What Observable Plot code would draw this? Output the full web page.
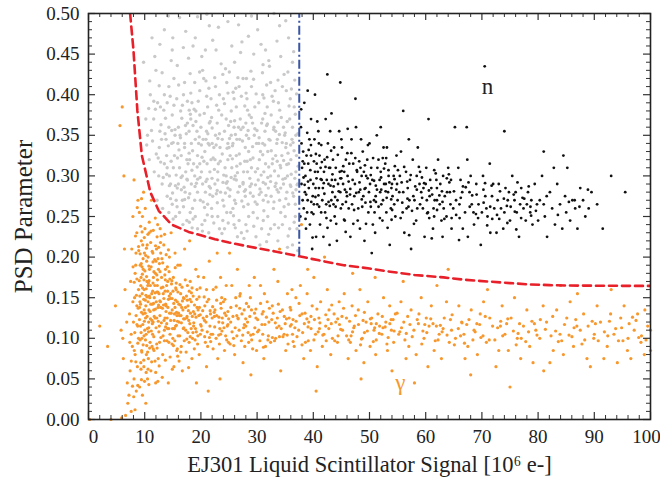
<!DOCTYPE html>
<html><head><meta charset="utf-8">
<script src="https://cdn.jsdelivr.net/npm/d3@7"></script>
<script src="https://cdn.jsdelivr.net/npm/@observablehq/plot@0.6"></script>
<style>body{margin:0;background:#fff} svg text{font-family:'Liberation Serif','Times New Roman',serif !important}</style>
</head><body><div id="chart"></div>
<script>
const xLabel = "EJ301 Liquid Scintillator Signal [10⁶ e-]";
const yLabel = "PSD Parameter";
const xTicks = [0,10,20,30,40,50,60,70,80,90,100];
const xMinor = [2,4,6,8,12,14,16,18,22,24,26,28,32,34,36,38,42,44,46,48,52,54,56,58,62,64,66,68,72,74,76,78,82,84,86,88,92,94,96,98];
const yTicks = [0,0.05,0.10,0.15,0.20,0.25,0.30,0.35,0.40,0.45,0.50];
const yMinor = [0.01,0.02,0.03,0.04,0.06,0.07,0.08,0.09,0.11,0.12,0.13,0.14,0.16,0.17,0.18,0.19,0.21,0.22,0.23,0.24,0.26,0.27,0.28,0.29,0.31,0.32,0.33,0.34,0.36,0.37,0.38,0.39,0.41,0.42,0.43,0.44,0.46,0.47,0.48,0.49];

// cut curve (red dashed)
const cutX = [7.4,8.0,8.7,9.5,11.0,12.5,14.8,17.8,20,22.5,25,28.5,33.2,37.5,41,45.4,50,53.7,58,63.2,67,71,75,78,82,85,90,95,100];
const cutY = [0.50,0.455,0.38,0.325,0.28,0.257,0.240,0.231,0.227,0.222,0.218,0.213,0.207,0.201,0.196,0.190,0.186,0.182,0.178,0.175,0.172,0.170,0.168,0.1665,0.1655,0.165,0.1648,0.1646,0.1645];
// vertical energy cut (blue dash-dot)
const vetoX = [37.5];
const vetoYLow = 0.201, vetoYHigh = 0.5;

const annotations = [["n", 71, 0.41], ["γ", 55.5, 0.046]];

const gammaPoints = [
[2.0,0.115],[4.8,0.14],[3.4,0.090],[5.6,0.362],[6.0,0.385],[6.3,0.300],[6.5,0.160],[6.8,0.120],[6.2,0.075],[6.9,0.045],[7.0,0.020],[6.6,0.005],[5.8,0.11],[6.4,0.21],[6.1,0.10],[4.0,0.0],[0.2,0.0],[5.9,0.002],
[7.2,0.03],[7.4,0.06],[7.6,0.01],[7.8,0.09],[7.3,0.13],[7.5,0.17],[7.7,0.21],[7.9,0.25],[8.1,0.05],[8.3,0.08],[8.0,0.12],[8.2,0.15],[8.4,0.19],[8.6,0.23],[8.8,0.27],[8.5,0.035],[8.7,0.065],[8.9,0.10],[8.1,0.295],[8.3,0.18],[8.6,0.14],[8.9,0.16],[7.6,0.105],[7.9,0.145],[8.45,0.205],[8.75,0.115],[8.15,0.085],[7.35,0.095],
[9.1,0.04],[9.3,0.07],[9.5,0.10],[9.7,0.13],[9.9,0.16],[9.2,0.19],[9.4,0.22],[9.6,0.25],[9.8,0.28],[10.0,0.11],[10.2,0.14],[10.4,0.17],[10.6,0.20],[10.8,0.23],[10.1,0.26],[10.3,0.08],[10.5,0.05],[10.7,0.12],[10.9,0.15],[9.15,0.145],[9.35,0.175],[9.55,0.155],[9.75,0.185],[9.95,0.205],[10.15,0.125],[10.35,0.195],[10.55,0.165],[10.75,0.135],[10.95,0.095],[9.25,0.115],[9.45,0.085],[9.65,0.215],[9.85,0.065],[10.05,0.235],[10.25,0.105],[10.45,0.215],[10.65,0.075],[10.85,0.185],[9.05,0.255],[9.6,0.03],[10.2,0.02],[9.9,0.135],[10.6,0.145],[11.0,0.165],[9.3,0.165],
[11.1,0.06],[11.3,0.09],[11.5,0.12],[11.7,0.15],[11.9,0.18],[12.1,0.21],[12.3,0.24],[11.2,0.27],[11.4,0.105],[11.6,0.135],[11.8,0.165],[12.0,0.195],[12.2,0.225],[12.4,0.075],[12.6,0.115],[12.8,0.145],[13.0,0.175],[11.25,0.155],[11.45,0.205],[11.65,0.085],[11.85,0.125],[12.05,0.145],[12.25,0.165],[12.45,0.185],[12.65,0.095],[12.85,0.205],[11.55,0.175],[12.15,0.125],[12.75,0.235],[11.95,0.045],[12.55,0.155],
[13.2,0.08],[13.5,0.11],[13.8,0.14],[14.1,0.17],[14.4,0.20],[14.7,0.23],[15.0,0.10],[15.3,0.13],[15.6,0.16],[15.9,0.19],[13.4,0.215],[13.7,0.185],[14.0,0.125],[14.3,0.095],[14.6,0.155],[14.9,0.135],[15.2,0.065],[15.5,0.115],[15.8,0.145],[13.3,0.155],[13.9,0.165],[14.5,0.105],[15.1,0.175],[15.7,0.085],[14.2,0.045],[13.6,0.125],[15.4,0.205],
[16.1,0.12],[16.5,0.09],[16.9,0.15],[17.3,0.11],[17.7,0.14],[18.1,0.17],[18.5,0.10],[18.9,0.13],[19.3,0.16],[19.7,0.08],[16.3,0.19],[16.7,0.06],[17.1,0.21],[17.5,0.125],[17.9,0.095],[18.3,0.145],[18.7,0.115],[19.1,0.185],[19.5,0.135],[19.9,0.105],[16.8,0.135],[17.6,0.165],[18.4,0.075],[19.2,0.045],[18.0,0.22],[16.4,0.155],
[20.2,0.11],[20.7,0.14],[21.2,0.09],[21.7,0.13],[22.2,0.16],[22.7,0.10],[23.2,0.12],[23.7,0.15],[24.2,0.085],[24.7,0.115],[20.5,0.175],[21.0,0.065],[21.5,0.195],[22.0,0.125],[22.5,0.135],[23.0,0.075],[23.5,0.105],[24.0,0.145],[24.5,0.165],[21.8,0.105],[20.9,0.12],[23.8,0.125],[22.9,0.205],[24.9,0.095],[21.3,0.035],[23.4,0.05],
[25.3,0.12],[25.8,0.10],[26.3,0.14],[26.8,0.11],[27.3,0.13],[27.8,0.09],[28.3,0.12],[28.8,0.15],[29.3,0.105],[29.8,0.125],[25.5,0.165],[26.0,0.08],[26.5,0.185],[27.0,0.155],[27.5,0.07],[28.0,0.115],[28.5,0.095],[29.0,0.135],[29.5,0.175],[26.6,0.125],[28.9,0.055],[25.1,0.205],[27.7,0.135],[29.9,0.085],
[30.3,0.11],[30.9,0.13],[31.5,0.09],[32.1,0.12],[32.7,0.14],[33.3,0.10],[33.9,0.115],[34.5,0.135],[35.1,0.085],[35.7,0.125],[36.3,0.105],[36.9,0.15],[30.6,0.165],[31.2,0.075],[31.8,0.145],[32.4,0.095],[33.0,0.185],[33.6,0.125],[34.2,0.06],[34.8,0.105],[35.4,0.155],[36.0,0.135],[36.6,0.09],[31.0,0.105],[34.0,0.21],[35.9,0.115],
[37.4,0.11],[38.0,0.13],[38.6,0.095],[39.2,0.12],[39.8,0.14],[40.4,0.105],[41.0,0.125],[41.6,0.09],[42.2,0.115],[42.8,0.135],[43.4,0.10],[44.0,0.12],[44.6,0.145],[37.7,0.165],[38.3,0.075],[38.9,0.155],[39.5,0.085],[40.1,0.175],[40.7,0.065],[41.3,0.145],[41.9,0.105],[42.5,0.16],[43.1,0.08],[43.7,0.13],[44.3,0.095],[40.5,0.035],[39.0,0.185],[37.9,0.24],[42.0,0.2],
[45.2,0.11],[45.9,0.125],[46.6,0.095],[47.3,0.115],[48.0,0.135],[48.7,0.10],[49.4,0.12],[50.1,0.09],[50.8,0.11],[51.5,0.13],[52.2,0.105],[52.9,0.12],[53.6,0.14],[54.3,0.095],[45.5,0.155],[46.2,0.075],[46.9,0.14],[47.6,0.085],[48.3,0.16],[49.0,0.07],[49.7,0.145],[50.4,0.125],[51.1,0.08],[51.8,0.115],[52.5,0.15],[53.2,0.085],[53.9,0.11],[54.6,0.13],[47.0,0.18],[51.0,0.175],[54.0,0.06],[48.5,0.05],
[55.2,0.105],[56.1,0.12],[57.0,0.09],[57.9,0.11],[58.8,0.13],[59.7,0.10],[60.6,0.115],[61.5,0.085],[62.4,0.105],[63.3,0.125],[64.2,0.095],[55.6,0.145],[56.5,0.075],[57.4,0.135],[58.3,0.08],[59.2,0.15],[60.1,0.125],[61.0,0.14],[61.9,0.115],[62.8,0.075],[63.7,0.145],[64.6,0.11],[56.0,0.17],[60.4,0.065],[62.0,0.165],[58.0,0.045],[64.0,0.185],
[65.3,0.10],[66.4,0.12],[67.5,0.09],[68.6,0.11],[69.7,0.13],[70.8,0.095],[71.9,0.115],[73.0,0.085],[74.1,0.105],[75.2,0.125],[76.3,0.10],[77.4,0.115],[78.5,0.09],[79.6,0.11],[65.9,0.14],[67.0,0.075],[68.1,0.135],[69.2,0.08],[70.3,0.145],[71.4,0.125],[72.5,0.065],[73.6,0.14],[74.7,0.085],[75.8,0.15],[76.9,0.075],[78.0,0.135],[79.1,0.07],[71.0,0.16],[66.8,0.105],[73.3,0.115],[77.0,0.10],[75.0,0.04],[68.0,0.055],
[80.3,0.10],[81.5,0.12],[82.7,0.085],[83.9,0.105],[85.1,0.125],[86.3,0.09],[87.5,0.11],[88.7,0.075],[89.9,0.10],[91.1,0.12],[92.3,0.09],[93.5,0.105],[94.7,0.125],[95.9,0.085],[97.1,0.11],[98.3,0.095],[99.5,0.115],[80.9,0.14],[82.1,0.07],[83.3,0.135],[84.5,0.08],[85.7,0.145],[86.9,0.115],[88.1,0.13],[89.3,0.065],[90.5,0.14],[91.7,0.075],[92.9,0.13],[94.1,0.07],[95.3,0.14],[96.5,0.075],[97.7,0.13],[98.9,0.08],[81.0,0.06],[87.0,0.155],[93.0,0.16],[99.0,0.135],[84.0,0.165],[90.0,0.105],[96.0,0.1],[100,0.11],[100,0.085],
[8.23,0.107],[8.47,0.128],[8.61,0.173],[8.84,0.137],[8.36,0.226],[8.52,0.153],[8.78,0.094],[8.93,0.208],[9.07,0.123],[9.18,0.098],[9.43,0.132],[9.66,0.117],[9.82,0.148],[9.02,0.171],[9.27,0.238],[9.39,0.192],[9.58,0.179],[9.88,0.103],[10.04,0.183],[10.27,0.161],[10.43,0.127],[10.68,0.108],[10.83,0.152],[10.11,0.147],[10.19,0.202],[10.36,0.091],[10.57,0.228],[10.72,0.113],[10.97,0.133],[11.14,0.188],[11.38,0.142],[11.62,0.102],[11.77,0.197],[11.06,0.218],[11.29,0.122],[11.48,0.168],[11.53,0.233],[11.84,0.072],[12.02,0.113],[12.28,0.172],[12.37,0.138],[12.62,0.192],[12.88,0.101],[12.13,0.093],[12.33,0.157],[12.49,0.212],[12.71,0.128],[12.94,0.162],[13.16,0.137],[13.27,0.103],[13.58,0.178],[13.73,0.142],[13.96,0.097],[13.21,0.193],[13.44,0.122],[13.63,0.158],[13.82,0.203],[14.06,0.112],[14.22,0.148],[14.47,0.173],[14.61,0.122],[14.86,0.093],[14.13,0.138],[14.34,0.182],[14.52,0.077],[14.77,0.167],[14.94,0.112],[15.17,0.143],[15.36,0.097],[15.52,0.162],[15.74,0.128],[15.93,0.103],[15.24,0.122],[15.43,0.187],[15.66,0.132],[15.87,0.078],[16.07,0.142],[16.23,0.103],[16.46,0.128],[16.64,0.163],[16.87,0.112],[17.04,0.097],[17.26,0.138],[17.43,0.152],[17.68,0.107],[17.84,0.122],[18.05,0.148],[18.27,0.112],[18.42,0.162],[18.66,0.133],[18.83,0.087],[19.04,0.112],[19.27,0.148],[19.46,0.103],[19.63,0.128],[19.86,0.162],
[20.4,0.125],[20.8,0.095],[21.1,0.145],[21.6,0.115],[22.1,0.105],[22.4,0.127],[22.8,0.147],[23.3,0.093],[23.6,0.137],[24.1,0.113],[24.4,0.103],[24.8,0.133],[25.2,0.093],[25.7,0.127],[26.1,0.113],[26.4,0.103],[26.9,0.137],[27.2,0.097],[27.6,0.113],[28.1,0.143],[28.4,0.107],[28.7,0.127],[29.2,0.087],[29.6,0.113],[30.1,0.123],[30.5,0.097],[31.1,0.133],[31.4,0.117],[32.0,0.103],[32.6,0.123],[33.1,0.097],[33.5,0.113],[34.1,0.133],[34.6,0.102],[35.0,0.118],[35.5,0.093],[36.1,0.117],[36.4,0.123],[37.1,0.102],[37.6,0.128],[38.1,0.107],[38.4,0.118],[39.1,0.097],[39.6,0.112],[40.2,0.123],[21.0,0.16],[26.2,0.15],[31.3,0.155],[36.2,0.16],[23.5,0.175],[28.6,0.165],[33.7,0.17],
[41.1,0.112],[42.3,0.097],[43.2,0.118],[44.4,0.103],[45.1,0.127],[46.3,0.098],[47.2,0.113],[48.4,0.092],[49.1,0.107],[50.3,0.118],[51.2,0.098],[52.4,0.113],[53.1,0.093],[54.2,0.123],[55.4,0.108],[56.3,0.098],[57.2,0.117],[58.5,0.123],[59.3,0.093],[60.2,0.107],[61.3,0.118],[62.2,0.098],[63.1,0.112],[64.4,0.123],[65.1,0.092],[66.2,0.103],[67.3,0.117],[68.4,0.098],[69.1,0.118],[70.2,0.103],[72.3,0.098],[74.4,0.118],[76.1,0.092],[78.3,0.108],[80.4,0.123],[82.3,0.103],[84.2,0.097],[86.4,0.113],[88.3,0.098],[90.2,0.118],[92.4,0.103],[94.3,0.097],[96.2,0.118],[98.4,0.103],
[8.62,0.117],[9.13,0.152],[9.48,0.083],[9.71,0.198],[10.08,0.131],[10.33,0.176],[10.59,0.062],[10.81,0.243],[11.17,0.109],[11.42,0.158],[11.69,0.127],[11.93,0.214],[12.21,0.088],[12.46,0.141],[12.73,0.182],[12.97,0.119],[13.24,0.163],[13.51,0.097],[13.79,0.133],[14.04,0.188],[14.29,0.112],[14.58,0.149],[14.83,0.171],[15.12,0.091],[15.39,0.138],[15.64,0.116],[15.91,0.157],[16.18,0.128],[16.42,0.083],[16.71,0.146],[16.96,0.113],[17.22,0.172],[17.49,0.099],[17.77,0.134],[18.03,0.118],[18.31,0.156],[18.58,0.107],[18.86,0.141],[19.13,0.126],[19.41,0.093],[19.68,0.151],[19.94,0.117],[20.32,0.134],[20.67,0.102],[21.03,0.127],[21.38,0.148],[21.74,0.096],[22.09,0.139],[22.45,0.114],[22.81,0.128],[23.16,0.104],[23.52,0.143],[23.88,0.119],[24.23,0.131],[24.59,0.098],[24.94,0.124],
[8.91,0.213],[9.26,0.142],[9.54,0.231],[9.87,0.172],[10.14,0.098],[10.41,0.151],[10.73,0.189],[11.02,0.124],[11.33,0.207],[11.58,0.143],[11.87,0.156],[12.16,0.178],[12.41,0.121],[12.69,0.146],[12.92,0.226],[13.35,0.141],[13.67,0.172],[13.92,0.118],[14.36,0.152],[14.71,0.131],[15.03,0.158],[15.48,0.147],[15.83,0.121],[16.27,0.166],[16.58,0.138],[17.11,0.124],[17.58,0.147],[18.14,0.131],[18.73,0.119],[19.32,0.138],[19.88,0.129],[9.34,0.062],[9.97,0.047],[10.52,0.083],[11.24,0.071],[11.96,0.058],[12.57,0.066],[13.12,0.052],[8.77,0.042],[8.05,0.028],[7.83,0.041],[7.61,0.072],[8.28,0.012],[9.72,0.092],[10.88,0.088],
[15.27,0.112],[15.81,0.087],[16.34,0.141],[16.92,0.124],[17.37,0.083],[17.93,0.158],[18.46,0.127],[18.97,0.098],[19.52,0.176],[20.06,0.115],[20.58,0.151],[21.13,0.108],[21.64,0.134],[22.17,0.087],[22.69,0.163],[23.21,0.126],[23.74,0.109],[24.28,0.148],[24.81,0.117],[25.33,0.138],[25.86,0.091],[26.38,0.128],[26.92,0.152],[27.44,0.104],[27.97,0.124],[28.49,0.139],[29.03,0.098],[29.54,0.131],[30.08,0.108],[30.61,0.143],[31.13,0.089],[31.66,0.126],[32.19,0.137],[32.72,0.101],[33.24,0.119],[33.78,0.142],[34.29,0.112],[34.83,0.127],[35.36,0.104],[35.88,0.138],[36.41,0.096],[36.94,0.121],[37.47,0.143],[37.99,0.092],[38.53,0.131],[39.06,0.114],[39.58,0.127],[40.11,0.098],[40.64,0.136],[41.17,0.119],[41.69,0.104],[42.22,0.129],[42.76,0.112],[43.28,0.141],[43.81,0.097],[44.34,0.124],[44.87,0.111],[45.39,0.137],[45.92,0.103],[46.46,0.121],[46.98,0.108],[47.51,0.128],[48.04,0.117],[48.57,0.099],[49.09,0.132],[49.62,0.109],[50.15,0.124],[50.68,0.096],[51.21,0.118],[51.74,0.106],[52.27,0.127],[52.79,0.114],[53.32,0.101],[53.85,0.123],[54.38,0.109],[54.91,0.131],
[55.7,0.113],[56.8,0.127],[57.6,0.102],[58.7,0.118],[59.5,0.109],[60.9,0.124],[61.7,0.097],[62.6,0.116],[63.8,0.104],[64.7,0.129],[65.8,0.112],[66.9,0.094],[67.7,0.123],[68.8,0.108],[69.6,0.117],[70.6,0.127],[71.3,0.098],[72.8,0.113],[73.7,0.103],[74.6,0.124],[75.6,0.109],[76.7,0.118],[77.8,0.096],[78.9,0.121],[79.8,0.104],[81.3,0.111],[82.6,0.127],[83.6,0.096],[84.7,0.117],[85.5,0.104],[86.7,0.123],[87.8,0.093],[88.9,0.115],[90.7,0.097],[91.8,0.108],[92.7,0.121],[93.8,0.112],[95.1,0.097],[96.8,0.126],[97.9,0.101],[99.2,0.098],
[9.08,0.138],[9.36,0.107],[9.62,0.162],[9.94,0.121],[10.22,0.153],[10.48,0.112],[10.77,0.171],[11.08,0.142],[11.36,0.118],[11.64,0.182],[11.91,0.136],[12.18,0.157],[12.52,0.108],[12.83,0.138],[13.07,0.198],[13.41,0.149],[13.72,0.114],[14.08,0.158],[14.43,0.131],[14.88,0.149],[15.22,0.112],[15.61,0.168],[16.02,0.131],[16.53,0.119],[17.02,0.149],[17.53,0.127],[18.09,0.102],[18.62,0.152],[19.18,0.108],[19.74,0.138],[9.18,0.204],[9.52,0.188],[9.93,0.224],[10.31,0.211],[10.66,0.168],[11.12,0.232],[11.47,0.194],[11.88,0.248],[12.36,0.198],[12.81,0.218],[13.54,0.228],[14.22,0.209],[9.42,0.049],[9.83,0.073],[10.26,0.058],[10.74,0.043],[11.52,0.087],[12.34,0.047],[13.68,0.073],[14.92,0.062],[16.12,0.072],[17.81,0.064],[8.42,0.071],[8.13,0.169],[7.93,0.188],[8.68,0.261],[9.44,0.272],
[20.63,0.122],[21.52,0.101],[22.36,0.132],[23.37,0.112],[24.47,0.128],[25.54,0.108],[26.63,0.124],[27.73,0.117],[28.86,0.104],[29.78,0.136],[30.86,0.117],[31.92,0.098],[32.86,0.131],[33.98,0.102],[35.23,0.124],[36.72,0.113],[38.86,0.124],[40.86,0.108],[42.62,0.123],[44.66,0.117],[46.72,0.103],[48.86,0.122],[50.92,0.113],[53.62,0.118],[56.54,0.106],[59.84,0.117],[62.92,0.108],[66.46,0.119],[69.82,0.101],[73.34,0.121],[76.44,0.106],[79.34,0.118],[83.12,0.109],[86.02,0.102],[89.62,0.121],[94.86,0.113],[97.42,0.122]
];

const rejectedPoints = [
[13.5,0.48],[16.2,0.495],[19.0,0.47],[21.5,0.485],[24.8,0.49],[27.3,0.465],[30.1,0.48],[33.0,0.5],[35.6,0.47],[17.8,0.445],[22.7,0.455],[26.0,0.44],[29.4,0.45],[32.2,0.435],[36.3,0.44],[12.0,0.43],[14.9,0.455],[20.3,0.43],[23.9,0.425],[28.1,0.42],[31.5,0.455],[34.8,0.425],[11.3,0.47],[18.6,0.46],
[11.0,0.40],[12.8,0.385],[14.3,0.41],[15.7,0.395],[17.1,0.415],[18.4,0.39],[19.8,0.405],[21.2,0.385],[22.6,0.41],[24.0,0.395],[25.4,0.38],[26.8,0.41],[28.2,0.395],[29.6,0.385],[31.0,0.40],[32.4,0.415],[33.8,0.39],[35.2,0.405],[36.6,0.385],[16.4,0.38],[20.5,0.42],[23.3,0.4],[27.5,0.42],[30.3,0.39],[34.5,0.41],[13.5,0.4],[19.1,0.38],[25.9,0.395],
[10.5,0.35],[11.6,0.37],[12.7,0.355],[13.8,0.345],[14.9,0.375],[16.0,0.36],[17.1,0.34],[18.2,0.37],[19.3,0.355],[20.4,0.345],[21.5,0.365],[22.6,0.35],[23.7,0.375],[24.8,0.34],[25.9,0.36],[27.0,0.37],[28.1,0.35],[29.2,0.365],[30.3,0.34],[31.4,0.355],[32.5,0.375],[33.6,0.345],[34.7,0.36],[35.8,0.37],[36.9,0.35],[15.4,0.35],[17.6,0.365],[19.8,0.375],[22.0,0.34],[24.2,0.355],[26.4,0.345],[28.6,0.375],[30.8,0.365],[33.0,0.36],[35.2,0.34],[14.3,0.36],[21.0,0.355],[27.5,0.36],
[10.8,0.32],[11.7,0.305],[12.6,0.335],[13.5,0.315],[14.4,0.30],[15.3,0.325],[16.2,0.31],[17.1,0.335],[18.0,0.32],[18.9,0.30],[19.8,0.315],[20.7,0.33],[21.6,0.305],[22.5,0.32],[23.4,0.335],[24.3,0.31],[25.2,0.325],[26.1,0.30],[27.0,0.315],[27.9,0.335],[28.8,0.32],[29.7,0.305],[30.6,0.33],[31.5,0.315],[32.4,0.30],[33.3,0.325],[34.2,0.31],[35.1,0.335],[36.0,0.32],[36.9,0.305],[14.8,0.34],[16.7,0.30],[19.4,0.325],[21.1,0.315],[23.0,0.305],[25.7,0.34],[28.3,0.305],[31.0,0.34],[33.8,0.30],[35.6,0.315],[17.5,0.32],[24.8,0.32],
[12.2,0.27],[13.1,0.29],[14.0,0.275],[14.9,0.265],[15.8,0.285],[16.7,0.27],[17.6,0.295],[18.5,0.26],[19.4,0.28],[20.3,0.29],[21.2,0.265],[22.1,0.275],[23.0,0.295],[23.9,0.27],[24.8,0.285],[25.7,0.26],[26.6,0.28],[27.5,0.29],[28.4,0.265],[29.3,0.275],[30.2,0.295],[31.1,0.27],[32.0,0.285],[32.9,0.26],[33.8,0.28],[34.7,0.29],[35.6,0.265],[36.5,0.275],[37.2,0.29],[16.0,0.29],[21.7,0.285],[26.0,0.27],[30.7,0.28],[34.0,0.27],[18.9,0.27],
[15.5,0.25],[16.8,0.24],[18.1,0.255],[19.4,0.235],[20.7,0.245],[22.0,0.25],[23.3,0.235],[24.6,0.255],[25.9,0.24],[27.2,0.23],[28.5,0.25],[29.8,0.225],[31.1,0.245],[32.4,0.235],[33.7,0.22],[35.0,0.25],[36.3,0.215],[37.1,0.235],[14.3,0.255],[21.4,0.23],[26.5,0.225],[30.5,0.215],[34.5,0.24],[13.2,0.26],[23.9,0.245],
[12.5,0.3],[13.0,0.345],[13.9,0.325],[14.6,0.29],[15.1,0.31],[15.9,0.34],[16.5,0.325],[17.3,0.305],[18.3,0.34],[18.7,0.315],[19.6,0.34],[20.1,0.305],[20.9,0.345],[21.8,0.32],[22.3,0.335],[23.1,0.315],[23.8,0.345],[24.5,0.3],[25.0,0.335],[25.5,0.31],[26.3,0.325],[26.9,0.345],[27.6,0.305],[28.5,0.33],[29.0,0.31],[29.9,0.34],[30.4,0.32],[31.2,0.305],[31.9,0.33],[32.7,0.315],[33.5,0.34],[34.4,0.325],[35.4,0.3],[36.2,0.345],[37.0,0.325],
[14.0,0.31],[16.3,0.35],[17.9,0.355],[19.0,0.345],[20.0,0.36],[21.3,0.34],[22.9,0.365],[24.5,0.37],[25.4,0.35],[26.7,0.36],[28.0,0.365],[29.5,0.35],[31.0,0.37],[32.1,0.345],[33.3,0.355],[34.9,0.35],[36.3,0.36],
[15.6,0.27],[17.2,0.28],[18.3,0.29],[19.9,0.27],[20.8,0.28],[22.5,0.29],[23.5,0.28],[25.1,0.275],[26.3,0.295],[27.9,0.275],[29.0,0.29],[30.0,0.265],[31.5,0.29],[32.5,0.275],[34.2,0.285],[35.3,0.28],[36.8,0.265],
[16.2,0.255],[17.5,0.245],[19.0,0.25],[20.2,0.24],[21.9,0.26],[23.0,0.25],[24.2,0.235],[25.3,0.255],[26.8,0.245],[28.0,0.24],[29.3,0.255],[30.8,0.235],[31.9,0.25],[33.1,0.24],[34.2,0.255],[35.8,0.235],[36.8,0.25],
[12.3,0.39],[14.0,0.39],[15.2,0.42],[16.9,0.4],[18.9,0.415],[21.8,0.395],[24.6,0.415],[26.3,0.385],[29.0,0.41],[31.8,0.385],[33.2,0.405],[35.9,0.395],[10.2,0.37],[9.8,0.44],[15.0,0.47],[25.5,0.46],[34.0,0.485],[20.8,0.455],
[11.4,0.343],[11.9,0.382],[12.4,0.322],[12.9,0.363],[13.3,0.298],[13.7,0.371],[14.2,0.337],[14.7,0.318],[15.2,0.387],[15.6,0.301],[16.1,0.332],[16.6,0.371],[17.0,0.286],[17.4,0.352],[17.9,0.328],[18.4,0.307],[18.8,0.382],[19.2,0.291],[19.7,0.348],[20.2,0.323],[20.6,0.377],[21.1,0.296],[21.5,0.338],[22.0,0.359],[22.4,0.308],[22.9,0.282],[23.3,0.352],[23.8,0.327],[24.2,0.389],[24.7,0.293],[25.1,0.346],[25.6,0.321],[26.0,0.368],[26.5,0.304],[26.9,0.287],[27.4,0.343],[27.8,0.318],[28.3,0.381],[28.7,0.297],[29.2,0.336],[29.6,0.358],[30.1,0.309],[30.5,0.284],[31.0,0.326],[31.4,0.377],[31.9,0.298],[32.3,0.344],[32.8,0.321],[33.2,0.287],[33.7,0.366],[34.1,0.313],[34.6,0.296],[35.0,0.353],[35.5,0.328],[35.9,0.289],[36.4,0.341],[36.8,0.376],[37.3,0.312],
[13.1,0.427],[15.8,0.436],[18.2,0.402],[20.9,0.417],[23.6,0.438],[26.2,0.408],[28.9,0.429],[31.7,0.412],[34.2,0.447],[36.7,0.418],[12.7,0.462],[17.3,0.478],[22.1,0.467],[26.7,0.486],[30.7,0.462],[35.1,0.491],[19.4,0.496],[29.0,0.497],
[16.9,0.262],[18.6,0.247],[20.4,0.268],[22.3,0.242],[24.1,0.263],[25.8,0.251],[27.6,0.262],[29.4,0.238],[31.2,0.257],[33.0,0.268],[34.8,0.262],[36.6,0.243],[14.6,0.272],[17.8,0.273],[21.6,0.277],[25.2,0.283],[28.8,0.279],[32.4,0.293],[36.0,0.287],
[15.4,0.357],[18.6,0.362],[21.9,0.372],[25.3,0.367],[28.4,0.356],[31.7,0.362],[34.3,0.372],[13.4,0.381],[17.6,0.392],[22.8,0.387],[27.2,0.398],[32.9,0.392],[36.1,0.407],[10.9,0.417],[11.8,0.447],[14.2,0.497],
[12.84,0.317],[13.62,0.352],[14.39,0.288],[15.07,0.341],[15.83,0.322],[16.48,0.298],[17.26,0.362],[17.71,0.315],[18.52,0.331],[19.11,0.367],[19.86,0.298],[20.53,0.318],[21.24,0.352],[21.97,0.297],[22.71,0.338],[23.44,0.318],[24.06,0.301],[24.93,0.362],[25.62,0.337],[26.38,0.312],[27.12,0.357],[27.73,0.281],[28.51,0.346],[29.27,0.322],[29.98,0.356],[30.72,0.301],[31.36,0.338],[32.07,0.311],[32.94,0.357],[33.58,0.318],[34.47,0.341],[35.27,0.314],[35.96,0.338],[36.71,0.297],[37.25,0.352],
[14.53,0.398],[16.71,0.387],[18.09,0.426],[19.53,0.392],[21.42,0.408],[23.17,0.381],[24.38,0.432],[25.74,0.403],[27.81,0.386],[29.83,0.401],[30.96,0.427],[32.66,0.398],[34.02,0.381],[35.48,0.428],[37.02,0.401],
[15.76,0.262],[17.11,0.271],[18.96,0.287],[20.66,0.261],[22.74,0.278],[24.52,0.291],[26.19,0.266],[27.94,0.283],[29.65,0.268],[31.58,0.276],[33.36,0.291],[35.12,0.272],[36.92,0.283],[20.27,0.232],[23.74,0.229],[27.66,0.223],[31.69,0.219],[35.41,0.212],[37.24,0.208],[18.44,0.236],
[13.92,0.302],[14.81,0.356],[15.47,0.288],[16.36,0.347],[17.52,0.296],[18.13,0.376],[19.34,0.311],[20.08,0.338],[20.89,0.293],[21.66,0.367],[22.18,0.322],[23.02,0.346],[23.93,0.292],[24.67,0.334],[25.38,0.298],[26.14,0.351],[26.83,0.327],[27.51,0.292],[28.22,0.318],[28.97,0.372],[29.71,0.289],[30.36,0.347],[31.09,0.292],[31.83,0.364],[32.52,0.331],[33.11,0.306],[33.96,0.351],[34.72,0.319],[35.36,0.367],[36.07,0.302],[36.58,0.331],[37.11,0.289],
[16.04,0.412],[17.92,0.381],[19.77,0.428],[21.03,0.398],[22.46,0.421],[24.82,0.402],[26.58,0.421],[28.04,0.402],[29.37,0.419],[31.22,0.396],[32.08,0.442],[33.72,0.418],[35.68,0.386],[36.51,0.453],[14.72,0.442],[20.16,0.447],[25.06,0.428],[27.06,0.452],[31.06,0.437],[16.88,0.458],[23.12,0.483],[28.46,0.472],[33.54,0.466],[21.06,0.499],
[14.96,0.279],[16.52,0.283],[18.02,0.278],[19.42,0.296],[21.48,0.287],[22.92,0.267],[24.36,0.279],[25.94,0.296],[27.28,0.269],[28.74,0.287],[30.38,0.277],[31.96,0.268],[33.54,0.283],[35.02,0.297],[36.34,0.279],[17.94,0.243],[21.14,0.252],[24.86,0.242],[28.22,0.232],[32.06,0.228],[35.52,0.226],[26.12,0.236],[30.06,0.248],[33.82,0.236],[15.06,0.247],
[11.21,0.356],[12.06,0.327],[11.62,0.392],[12.58,0.411],[10.71,0.383],[10.36,0.338]
];

const neutronPoints = [
[70.5,0.435],[42.5,0.425],[44.8,0.415],[56.0,0.38],[60.5,0.37],[65.2,0.36],[67.3,0.36],[39.0,0.405],[38.4,0.39],[40.3,0.40],[47.5,0.395],[52.0,0.36],[74.0,0.355],[81.0,0.33],[84.5,0.325],[93.0,0.3],[95.5,0.28],[86.5,0.27],[89.0,0.26],[91.5,0.235],
[37.8,0.36],[38.2,0.33],[38.6,0.30],[39.0,0.27],[39.4,0.24],[39.8,0.21],[40.2,0.345],[40.6,0.315],[41.0,0.285],[41.4,0.255],[41.8,0.225],[42.2,0.37],[42.6,0.34],[43.0,0.31],[43.4,0.28],[43.8,0.25],[44.2,0.22],[44.6,0.355],[37.9,0.29],[38.3,0.26],[38.7,0.235],[39.1,0.315],[39.5,0.295],[39.9,0.275],[40.3,0.305],[40.7,0.265],[41.1,0.325],[41.5,0.295],[41.9,0.305],[42.3,0.265],[42.7,0.29],[43.1,0.245],[43.5,0.32],[43.9,0.295],[44.3,0.27],[44.7,0.305],[38.0,0.31],[39.3,0.345],[40.9,0.355],[42.0,0.32],[43.7,0.335],[44.9,0.26],[38.5,0.28],[40.0,0.29],[41.6,0.27],[37.7,0.25],[42.9,0.215],[40.5,0.225],
[45.3,0.29],[45.8,0.32],[46.3,0.26],[46.8,0.345],[47.3,0.275],[47.8,0.305],[48.3,0.235],[48.8,0.33],[49.3,0.285],[49.8,0.255],[50.3,0.31],[50.8,0.27],[51.3,0.35],[51.8,0.295],[52.3,0.245],[52.8,0.315],[53.3,0.28],[53.8,0.26],[54.3,0.30],[54.8,0.325],[45.6,0.245],[46.1,0.30],[46.6,0.225],[47.1,0.315],[47.6,0.36],[48.1,0.28],[48.6,0.30],[49.1,0.22],[49.6,0.32],[50.1,0.29],[50.6,0.24],[51.1,0.275],[51.6,0.32],[52.1,0.265],[52.6,0.29],[53.1,0.335],[53.6,0.215],[54.1,0.275],[54.6,0.25],[46.0,0.275],[48.0,0.26],[50.0,0.34],[52.0,0.305],[54.0,0.29],[47.0,0.295],[49.0,0.305],[51.0,0.23],[53.0,0.255],[45.1,0.335],[50.4,0.205],
[55.3,0.28],[55.9,0.255],[56.5,0.305],[57.1,0.27],[57.7,0.32],[58.3,0.245],[58.9,0.29],[59.5,0.26],[60.1,0.31],[60.7,0.275],[61.3,0.235],[61.9,0.295],[62.5,0.265],[63.1,0.30],[63.7,0.25],[64.3,0.28],[64.9,0.26],[55.6,0.33],[56.2,0.23],[56.8,0.285],[57.4,0.21],[58.0,0.27],[58.6,0.335],[59.2,0.28],[59.8,0.225],[60.4,0.255],[61.0,0.285],[61.6,0.27],[62.2,0.32],[62.8,0.245],[63.4,0.275],[64.0,0.31],[64.6,0.235],[57.0,0.345],[60.0,0.29],[63.0,0.225],[58.5,0.26],[61.5,0.25],[55.0,0.27],[59.0,0.305],[62.0,0.285],[64.5,0.295],
[65.4,0.27],[66.2,0.295],[67.0,0.255],[67.8,0.28],[68.6,0.24],[69.4,0.265],[70.2,0.30],[71.0,0.25],[71.8,0.275],[72.6,0.23],[73.4,0.26],[74.2,0.285],[75.0,0.245],[75.8,0.27],[76.6,0.225],[77.4,0.26],[78.2,0.28],[79.0,0.24],[79.8,0.265],[65.8,0.31],[66.6,0.235],[67.4,0.32],[68.2,0.265],[69.0,0.29],[69.8,0.215],[70.6,0.275],[71.4,0.315],[72.2,0.26],[73.0,0.29],[73.8,0.235],[74.6,0.27],[75.4,0.30],[76.2,0.255],[77.0,0.285],[77.8,0.245],[78.6,0.255],[79.4,0.29],[66.0,0.265],[68.0,0.3],[70.0,0.255],[72.0,0.29],[74.0,0.255],[76.0,0.28],[78.0,0.265],[71.5,0.23],[67.5,0.225],
[80.3,0.27],[81.2,0.25],[82.1,0.28],[83.0,0.24],[83.9,0.265],[84.8,0.275],[85.7,0.245],[86.6,0.26],[87.5,0.285],[88.4,0.25],[80.7,0.3],[81.6,0.225],[82.5,0.26],[83.4,0.29],[84.3,0.235],[85.2,0.31],[86.1,0.27],[87.0,0.235],[88.0,0.27],[89.5,0.28],[90.5,0.265],[82.8,0.31],[85.0,0.255],[81.0,0.265],[80.0,0.245],
[37.9,0.34],[38.1,0.27],[38.4,0.315],[38.8,0.325],[38.9,0.255],[39.2,0.285],[39.6,0.325],[39.7,0.255],[40.1,0.265],[40.4,0.285],[40.8,0.305],[41.2,0.24],[41.3,0.31],[41.7,0.285],[42.1,0.255],[42.4,0.295],[42.8,0.31],[43.2,0.27],[43.3,0.295],[43.6,0.265],[44.0,0.31],[44.4,0.29],[44.8,0.28],[45.2,0.265],[45.5,0.305],[45.9,0.28],[46.4,0.315],[46.9,0.265],[47.4,0.29],[47.9,0.245],[48.4,0.31],[48.9,0.275],[49.4,0.3],[49.9,0.28],[50.5,0.295],[50.9,0.255],[51.4,0.31],[51.9,0.28],[52.4,0.27],[52.9,0.29],[53.4,0.3],[53.9,0.285],[54.4,0.265],[54.9,0.29],[55.4,0.3],[56.0,0.28],[56.6,0.26],[57.2,0.295],[57.8,0.275],[58.4,0.3],[59.0,0.265],[59.6,0.285],[60.2,0.27],[60.8,0.295],[61.4,0.26],[62.0,0.27],[62.6,0.29],[63.2,0.26],[63.8,0.28],[64.4,0.265],[66.5,0.28],[68.5,0.255],[70.8,0.26],[72.8,0.27],[74.8,0.28],[76.8,0.265],[78.8,0.27],[41.0,0.34],[43.0,0.355],[45.0,0.345],[39.6,0.37],[48.5,0.345],[52.5,0.335],
[38.27,0.298],[38.73,0.277],[39.18,0.332],[39.64,0.268],[40.12,0.318],[40.57,0.297],[41.04,0.262],[41.52,0.317],[41.97,0.278],[42.46,0.323],[42.93,0.263],[43.41,0.302],[43.88,0.274],[44.36,0.326],[44.82,0.297],[45.33,0.312],[45.81,0.268],[46.29,0.293],[46.77,0.328],[47.26,0.258],[47.74,0.307],[48.22,0.292],[48.71,0.262],[49.19,0.313],[49.67,0.297],[50.16,0.268],[50.64,0.322],[51.12,0.288],[51.61,0.262],[52.09,0.283],[52.58,0.309],[53.06,0.273],[53.54,0.292],[54.03,0.258],[54.51,0.312],[55.72,0.292],[56.93,0.262],[58.14,0.287],[59.36,0.273],[60.57,0.282],[61.78,0.303],[62.99,0.268],[64.21,0.292],[65.42,0.252],[66.63,0.287],[67.84,0.262],[69.06,0.277],[70.27,0.283],[71.48,0.262],[72.69,0.252],[73.91,0.272],[75.12,0.262],[76.33,0.292],[77.54,0.272],[78.76,0.251],[37.84,0.382],[38.92,0.353],[40.71,0.367],[43.24,0.377],[46.12,0.358],
[38.46,0.289],[39.47,0.307],[40.38,0.274],[41.33,0.296],[42.17,0.311],[43.06,0.288],[43.97,0.262],[44.97,0.297],[45.62,0.283],[46.54,0.277],[47.47,0.322],[48.36,0.283],[49.28,0.267],[50.22,0.301],[51.14,0.268],[52.06,0.298],[52.97,0.322],[53.86,0.271],[54.77,0.283],[55.83,0.267],[56.71,0.293],[57.56,0.257],[58.42,0.283],[59.33,0.298],[60.27,0.254],[61.15,0.277],[62.02,0.258],[62.89,0.281],[63.76,0.297],[64.61,0.248],[66.24,0.273],[67.62,0.292],[68.94,0.253],[70.31,0.267],[71.73,0.288],[73.08,0.247],[74.44,0.263],[75.86,0.256],[77.23,0.273],[78.64,0.262],[39.87,0.224],[42.53,0.236],[45.76,0.231],[49.38,0.241],[53.22,0.236],[57.06,0.227],[61.08,0.223],[65.93,0.221],[70.94,0.239],[76.12,0.234],
[38.12,0.318],[38.62,0.247],[39.06,0.293],[39.58,0.338],[40.02,0.253],[40.46,0.327],[40.91,0.276],[41.42,0.338],[41.86,0.291],[42.34,0.248],[42.71,0.268],[43.17,0.331],[43.62,0.287],[44.08,0.241],[44.52,0.281],[45.04,0.306],[45.47,0.246],[46.06,0.328],[46.58,0.284],[47.12,0.241],[47.64,0.279],[48.17,0.318],[48.62,0.271],[49.13,0.284],[49.72,0.338],[50.23,0.262],[50.81,0.294],[51.33,0.283],[51.84,0.248],[52.36,0.322],[52.87,0.281],[53.38,0.307],[53.93,0.246],[54.46,0.296],[55.06,0.307],[55.54,0.248],[56.17,0.311],[56.76,0.272],[57.33,0.301],[57.91,0.241],[58.78,0.311],[59.72,0.291],[60.63,0.248],[61.52,0.307],[62.43,0.276],[63.32,0.247],[64.12,0.302],[65.03,0.281],[66.03,0.248],[67.12,0.286],[68.27,0.276],[69.32,0.248],[70.56,0.291],[71.84,0.247],[73.22,0.281],[74.53,0.242],[75.66,0.277],[76.98,0.248],[78.33,0.287],[79.61,0.257],[81.53,0.275],[83.52,0.252],[85.48,0.268],[87.36,0.262],[88.87,0.283]
];

const cut = cutX.map((x, i) => ({x, y: cutY[i]}));
const font = "'Liberation Serif', 'Times New Roman', serif";
const W = 660, H = 481, mL = 88, mR = 10, mT = 13, mB = 62;
const fw = W - mL - mR, fh = H - mT - mB;
const major = 7, minor = 4;
const tickStyle = {fontSize: 19, fontFamily: font, fill: "#222", label: null};

const chart = Plot.plot({
  width: W, height: H,
  marginLeft: mL, marginRight: mR, marginTop: mT, marginBottom: mB,
  style: {fontFamily: font, background: "#fff", overflow: "visible"},
  x: {domain: [0, 100], label: null},
  y: {domain: [0, 0.5], label: null},
  marks: [
    Plot.dot(rejectedPoints, {x: d => d[0], y: d => d[1], r: 1.7, fill: "#c9c9c9", stroke: null}),
    Plot.dot(neutronPoints, {x: d => d[0], y: d => d[1], r: 1.4, fill: "#111", stroke: null}),
    Plot.dot(gammaPoints, {x: d => d[0], y: d => d[1], r: 1.6, fill: "#f7982e", stroke: null}),
    Plot.line(cut, {x: "x", y: "y", stroke: "#e8202a", strokeWidth: 2.6, strokeDasharray: "8,5", clip: true}),
    Plot.ruleX(vetoX, {x: d => d, y1: vetoYLow, y2: vetoYHigh, stroke: "#3b55a5", strokeWidth: 2, strokeDasharray: "9,3,2,3"}),
    Plot.text(annotations, {x: d => d[1], y: d => d[2], text: d => d[0], fontSize: 23, fontFamily: font,
      fill: (d, i) => i === 0 ? "#222" : "#f7982e"}),
    // ticks pointing inward on all sides
    Plot.ruleX(xTicks, {x: d => d, insetTop: fh - major, stroke: "#333", strokeWidth: 1.2}),
    Plot.ruleX(xMinor, {x: d => d, insetTop: fh - minor, stroke: "#333"}),
    Plot.ruleX(xTicks, {x: d => d, insetBottom: fh - major, stroke: "#333", strokeWidth: 1.2}),
    Plot.ruleX(xMinor, {x: d => d, insetBottom: fh - minor, stroke: "#333"}),
    Plot.ruleY(yTicks, {y: d => d, insetRight: fw - major, stroke: "#333", strokeWidth: 1.2}),
    Plot.ruleY(yMinor, {y: d => d, insetRight: fw - minor, stroke: "#333"}),
    Plot.ruleY(yTicks, {y: d => d, insetLeft: fw - major, stroke: "#333", strokeWidth: 1.2}),
    Plot.ruleY(yMinor, {y: d => d, insetLeft: fw - minor, stroke: "#333"}),
    Plot.frame({stroke: "#222", strokeWidth: 1.6}),
    Plot.axisX(xTicks.slice(0, 1), {...tickStyle, tickSize: 0, tickPadding: 10, dx: 5, tickFormat: d => String(d)}),
    Plot.axisX(xTicks.slice(1, -1), {...tickStyle, tickSize: 0, tickPadding: 10, tickFormat: d => String(d)}),
    Plot.axisX(xTicks.slice(-1), {...tickStyle, tickSize: 0, tickPadding: 10, dx: -4, tickFormat: d => String(d)}),
    Plot.axisY(yTicks, {...tickStyle, tickSize: 0, tickPadding: 9, tickFormat: d3.format(".2f")}),
    Plot.text([xLabel], {frameAnchor: "bottom", dy: 45, text: d => d, fontSize: 22.5, fill: "#222", lineAnchor: "middle", textAnchor: "middle", fontFamily: font}),
    Plot.text([yLabel], {frameAnchor: "left", dx: -65, rotate: -90, text: d => d, fontSize: 25, fill: "#222", lineAnchor: "middle", textAnchor: "middle", fontFamily: font})
  ]
});
document.getElementById("chart").appendChild(chart);
</script>
</body></html>
